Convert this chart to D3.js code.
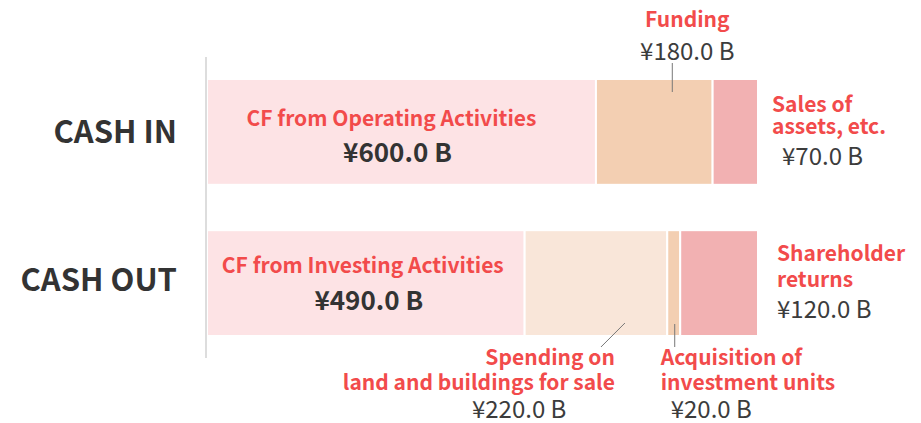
<!DOCTYPE html>
<html>
<head>
<meta charset="utf-8">
<script src="https://cdn.jsdelivr.net/npm/d3@7"></script>
<style>
  body { margin: 0; background: #fff; }
  text { font-family: "Noto Sans CJK JP", "Noto Sans", sans-serif; }
</style>
</head>
<body>
<script>
// chart data
const rows = ["CASH IN", "CASH OUT"];
const inLabels = ["CF from Operating Activities", "Funding", "Sales of assets, etc."];
const inValues = [600, 180, 70];
const outLabels = ["CF from Investing Activities", "Spending on land and buildings for sale", "Acquisition of investment units", "Shareholder returns"];
const outValues = [490, 220, 20, 120];
const total = 850;

var width = 921, height = 423;
var red = "#f24b4b", dark = "#333", grey = "#3c3c3c";
var inColors = ["#fde3e5", "#f3cfb2", "#f2b1b2"];
var outColors = ["#fde3e5", "#f9e6d9", "#f3cfb2", "#f2b1b2"];

const svg = d3.select("body")
    .append("svg")
    .attr("width", width)
    .attr("height", height);

var xscale = d3.scaleLinear().domain([0, total]).range([207, 758]);
var yscale = d3.scaleBand().domain(rows).range([79, 336]).paddingInner(0.3);

function stack(labels, values, colors) {
    var acc = 0;
    return values.map((v, i) => {
        var d = {label: labels[i], value: v, x0: acc, x1: acc + v, color: colors[i]};
        acc += v;
        return d;
    });
}
var inData = stack(inLabels, inValues, inColors);
var outData = stack(outLabels, outValues, outColors);

function fmt(v) { return "¥" + v.toFixed(1) + " B"; }

// bars
[[rows[0], inData], [rows[1], outData]].forEach(([row, data]) => {
    svg.append("g").selectAll("rect")
        .data(data)
        .join("rect")
        .attr("x", d => xscale(d.x0))
        .attr("y", yscale(row))
        .attr("width", d => xscale(d.x1) - xscale(d.x0))
        .attr("height", yscale.bandwidth())
        .attr("fill", d => d.color)
        .attr("stroke", "#fff")
        .attr("stroke-width", 2);
});

// axis line
svg.append("line")
    .attr("x1", 206).attr("x2", 206)
    .attr("y1", yscale(rows[0]) - 22)
    .attr("y2", yscale(rows[1]) + yscale.bandwidth() + 22)
    .attr("stroke", "#ddd")
    .attr("stroke-width", 2);

// row labels
svg.append("g").selectAll("text")
    .data(rows)
    .join("text")
    .attr("x", 177)
    .attr("y", (d, i) => yscale(d) + yscale.bandwidth() / 2 + (i ? 8 : 11))
    .attr("text-anchor", "end")
    .attr("font-size", 31)
    .attr("font-weight", "bold")
    .attr("fill", dark)
    .text(d => d);

function lines(g, x, y, arr, anchor, size, weight, color, lh) {
    arr.forEach((t, i) => {
        g.append("text")
            .attr("x", x).attr("y", y + i * lh)
            .attr("text-anchor", anchor)
            .attr("font-size", size)
            .attr("font-weight", weight)
            .attr("fill", color)
            .text(t);
    });
}
function leader(x1, y1, x2, y2) {
    svg.append("line")
        .attr("x1", x1).attr("y1", y1).attr("x2", x2).attr("y2", y2)
        .attr("stroke", "#777").attr("stroke-width", 1);
}

var g = svg.append("g");
var inTop = yscale(rows[0]), inBot = inTop + yscale.bandwidth();
var outTop = yscale(rows[1]), outBot = outTop + yscale.bandwidth();
var lab = 21, val = 24;

// big inner labels
[[inData[0], inTop, 47, 83, -10], [outData[0], outTop, 43, 80, -3]].forEach(([d, top, a, b, dx]) => {
    var cx = (xscale(d.x0) + xscale(d.x1)) / 2;
    lines(g, cx + dx, top + a, [d.label], "middle", lab, 600, red, 0);
    lines(g, cx + dx + 6, top + b, [fmt(d.value)], "middle", 26, "bold", dark, 0);
});

// Funding
var fx = (xscale(inData[1].x0) + xscale(inData[1].x1)) / 2 + 18;
leader(fx, inTop - 16, fx, inTop + 13);
lines(g, fx + 15, 27, [inData[1].label], "middle", lab, 600, red, 0);
lines(g, fx + 15, 60, [fmt(inData[1].value)], "middle", val, "normal", grey, 0);

// Sales of assets
var sx = xscale(total) + 14;
lines(g, sx, inTop + 33, ["Sales of", "assets, etc."], "start", lab, 600, red, 22);
lines(g, sx + 10, inTop + 86, [fmt(inData[2].value)], "start", val, "normal", grey, 0);

// Shareholder returns
var hx = xscale(total) + 19;
lines(g, hx, outTop + 31, ["Shareholder", "returns"], "start", lab, 600, red, 26);
lines(g, hx, outTop + 88, [fmt(outData[3].value)], "start", val, "normal", grey, 0);

// Spending on land
var px = (xscale(outData[1].x0) + xscale(outData[1].x1)) / 2;
leader(px + 29, outBot - 13, px + 5, outBot + 11);
lines(g, px + 19, outBot + 29, ["Spending on", "land and buildings for sale"], "end", lab, 600, red, 25);
lines(g, px - 124, outBot + 82, [fmt(outData[1].value)], "start", val, "normal", grey, 0);

// Acquisition
var ax = (xscale(outData[2].x0) + xscale(outData[2].x1)) / 2 + 1;
leader(ax, outBot - 12, ax, outBot + 11);
lines(g, ax - 14, outBot + 29, ["Acquisition of", "investment units"], "start", lab, 600, red, 25);
lines(g, ax - 4, outBot + 82, [fmt(outData[2].value)], "start", val, "normal", grey, 0);
</script>
</body>
</html>
